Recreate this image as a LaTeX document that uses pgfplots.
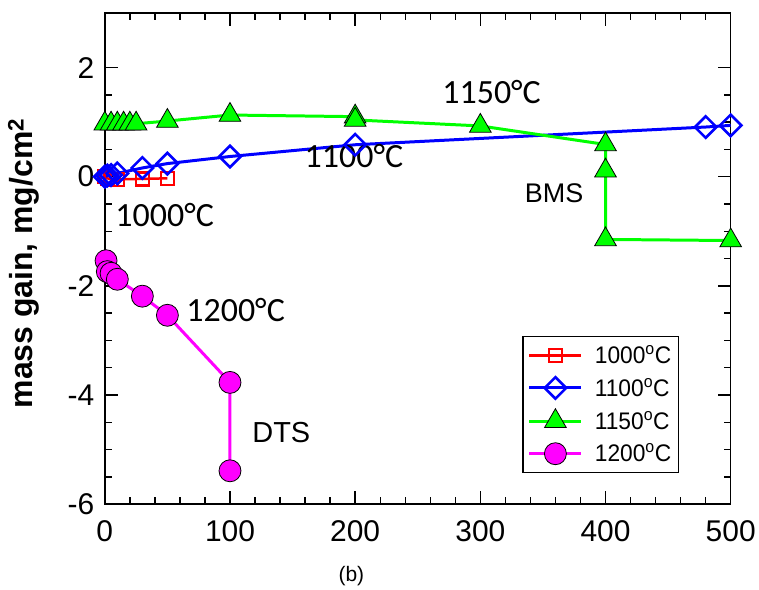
\documentclass[border=0pt]{standalone}
\usepackage{fontspec}
\setmainfont{Liberation Sans}
\newfontfamily\calfont{Carlito}
\newfontfamily\legfont[FakeStretch=0.95]{Liberation Sans}
\usepackage{pgfplots}
\pgfplotsset{compat=1.18}

\definecolor{cRed}{RGB}{255,0,0}
\definecolor{cBlue}{RGB}{0,0,255}
\definecolor{cGreen}{RGB}{0,255,0}
\definecolor{cMag}{RGB}{255,0,255}

\begin{document}
\begin{tikzpicture}
\begin{axis}[
  scale only axis,
  width=627pt, height=492pt,
  xmin=0, xmax=500, ymin=-6, ymax=3,
  xtick={0,100,...,500}, ytick={-6,-4,...,2},
  minor x tick num=4, minor y tick num=3,
  tick align=inside,
  major tick length=13pt, minor tick length=7pt,
  axis line style={line width=1.6pt},
  every tick/.style={black, line width=1.4pt},
  ticklabel style={font=\fontsize{30}{30}\selectfont},
  xticklabel style={yshift=-13pt},
  yticklabel style={xshift=-7pt},
  /pgf/number format/assume math mode=true,
  ylabel={\textbf{mass gain, mg/cm\textsuperscript{2}}},
  ylabel style={font=\fontsize{32}{34}\selectfont,
    at={(rel axis cs:-0.0989,0.49)}, anchor=south},
  xlabel={(b)},
  xlabel style={font=\fontsize{21}{21}\selectfont,
    at={(rel axis cs:0.394,-0.1463)}, anchor=center},
  legend style={at={(rel axis cs:0.667,0.063)}, anchor=south west,
    font=\legfont\fontsize{24}{24}\selectfont, draw=black, line width=1.4pt,
    inner xsep=5pt, inner ysep=7pt, row sep=9pt, column sep=10pt},
  legend cell align=left,
  legend image code/.code={\draw[mark repeat=2,mark phase=2,#1]
    plot coordinates {(0pt,0pt)(26pt,0pt)(52pt,0pt)};},
]
% 1000 C
\addplot[cRed, line width=2.5pt, mark=square, mark size=6.5pt,
  mark options={line width=2.4pt, solid}]
  coordinates {(0,0) (2,-0.03) (5,-0.05) (10,-0.05) (30,-0.04) (50,-0.03)};
\addlegendentry{1000\textsuperscript{o}C}
% 1100 C
\addplot[cBlue, line width=3pt, mark=square, mark size=7.6pt,
  mark options={line width=2.6pt, rotate=45, solid}]
  coordinates {(0,0) (2,0.02) (5,0.03) (10,0.06) (30,0.16) (50,0.24)
               (100,0.37) (200,0.585) (480,0.91) (500,0.94)};
\addlegendentry{1100\textsuperscript{o}C}
% 1150 C
\addplot[cGreen, line width=3pt, mark=triangle*, mark size=12.5pt,
  mark options={draw=black, fill=cGreen, line width=0.8pt, solid}]
  coordinates {(0,0.97) (5,0.97) (10,0.97) (15,0.97) (20,0.97) (25,0.97)
               (50,1.02) (100,1.13) (200,1.1) (200,1.04) (300,0.93)
               (400,0.59) (400,0.11) (400,-1.15) (500,-1.17)};
\addlegendentry{1150\textsuperscript{o}C}
% 1200 C
\addplot[cMag, line width=3pt, mark=*, mark size=11pt,
  mark options={draw=black, fill=cMag, line width=0.8pt, solid}]
  coordinates {(1,-1.54) (2,-1.74) (5,-1.77) (10,-1.88) (30,-2.19)
               (50,-2.54) (100,-3.77) (100,-5.39)};
\addlegendentry{1200\textsuperscript{o}C}

\node[font=\calfont\fontsize{34}{34}\selectfont] at (axis cs:47.8,-0.70) {1000°C};
\node[font=\calfont\fontsize{34}{34}\selectfont] at (axis cs:199,0.37) {1100°C};
\node[font=\calfont\fontsize{34}{34}\selectfont] at (axis cs:309,1.55) {1150°C};
\node[font=\calfont\fontsize{34}{34}\selectfont] at (axis cs:104.5,-2.45) {1200°C};
\node[font=\fontsize{27}{27}\selectfont] at (axis cs:359,-0.31) {BMS};
\node[font=\fontsize{29}{29}\selectfont] at (axis cs:141,-4.68) {DTS};
\end{axis}
% page frame around the axis
\path ([xshift=-105pt,yshift=-84pt]current axis.south west)
  rectangle ([xshift=27pt,yshift=13pt]current axis.north east);
\end{tikzpicture}
\end{document}
